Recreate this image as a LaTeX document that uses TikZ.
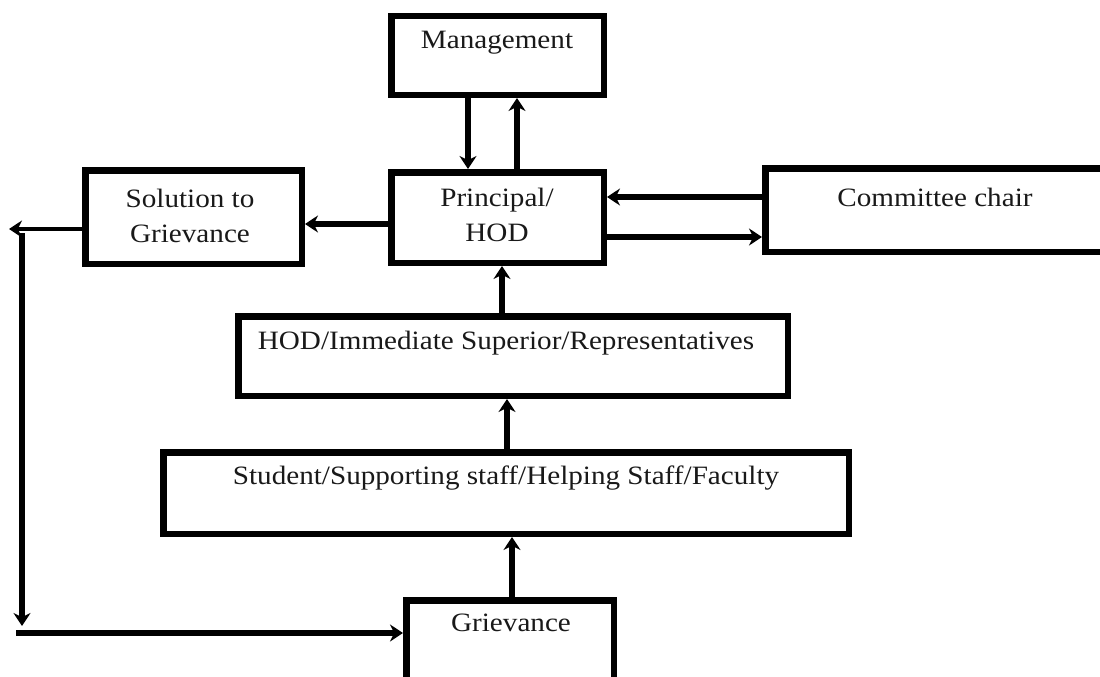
\documentclass[tikz,border=0pt]{standalone}
\usepackage{fontspec}
\setmainfont[FakeStretch=1.1]{Liberation Serif}
\usetikzlibrary{arrows.meta}
\begin{document}
\begin{tikzpicture}[x=1pt,y=-1pt,
  box/.style={draw=black,line width=6.5pt,inner sep=0pt,rectangle},
  txt/.style={font=\fontsize{26.5}{35}\selectfont,text=black!90,inner sep=0pt,align=center},
  arr/.style={line width=5.5pt,-{Stealth[length=13pt,width=17pt]}},
  ln/.style={line width=5.5pt}]
\clip (0,0) rectangle (1100,677);
\fill[white] (0,0) rectangle (1100,677);
% boxes
\node[box,minimum width=212.5pt,minimum height=78.5pt] (mgmt) at (497.5,55.5) {};
\node[box,minimum width=212.5pt,minimum height=90.5pt] (prin) at (497.5,217.5) {};
\node[box,minimum width=216.5pt,minimum height=93.5pt] (sol) at (193.5,217) {};
\node[box,minimum width=345.5pt,minimum height=83.5pt] (comm) at (938,210) {};
\node[box,minimum width=549.5pt,minimum height=79.5pt] (hod) at (513,356) {};
\node[box,minimum width=685.5pt,minimum height=81.5pt] (stud) at (506,493) {};
\node[box,minimum width=207.5pt,minimum height=91pt] (griev) at (510,646) {};
% texts
\node[txt] (tmgmt) at (497,43) {Management};
\node[txt] (tprin) at (497,215) {Principal/\\HOD};
\node[txt] (tsol) at (190,216) {Solution to\\Grievance};
\node[txt] (tcomm) at (935,197) {Committee chair};
\node[txt] (thod) at (506,343) {HOD/Immediate Superior/Representatives};
\node[txt] (tstud) at (506,478) {Student/Supporting staff/Helping Staff/Faculty};
\node[txt] (tgriev) at (511,623) {Grievance};
% connectors
\draw[arr] (mgmt.south -| 468,0) -- (prin.north -| 468,0);
\draw[arr] (prin.north -| 517,0) -- (mgmt.south -| 517,0);
\draw[arr] (prin.west |- 0,224) -- (sol.east |- 0,224);
\draw[arr] (comm.west |- 0,197) -- (prin.east |- 0,197);
\draw[arr] (prin.east |- 0,237) -- (comm.west |- 0,237);
\draw[arr] (hod.north -| 502,0) -- (prin.south -| 502,0);
\draw[arr] (stud.north -| 507,0) -- (hod.south -| 507,0);
\draw[arr] (griev.north -| 512,0) -- (stud.south -| 512,0);
\coordinate (c1) at (9,229);
\coordinate (c2) at (22,233);
\coordinate (c3) at (22,626);
\coordinate (c4) at (16,633);
\draw[arr,line width=4.5pt] (sol.west |- 0,229) -- (c1);
\draw[arr] (c2) -- (c3);
\draw[arr] (c4) -- (griev.west |- 0,633);
\end{tikzpicture}
\end{document}
